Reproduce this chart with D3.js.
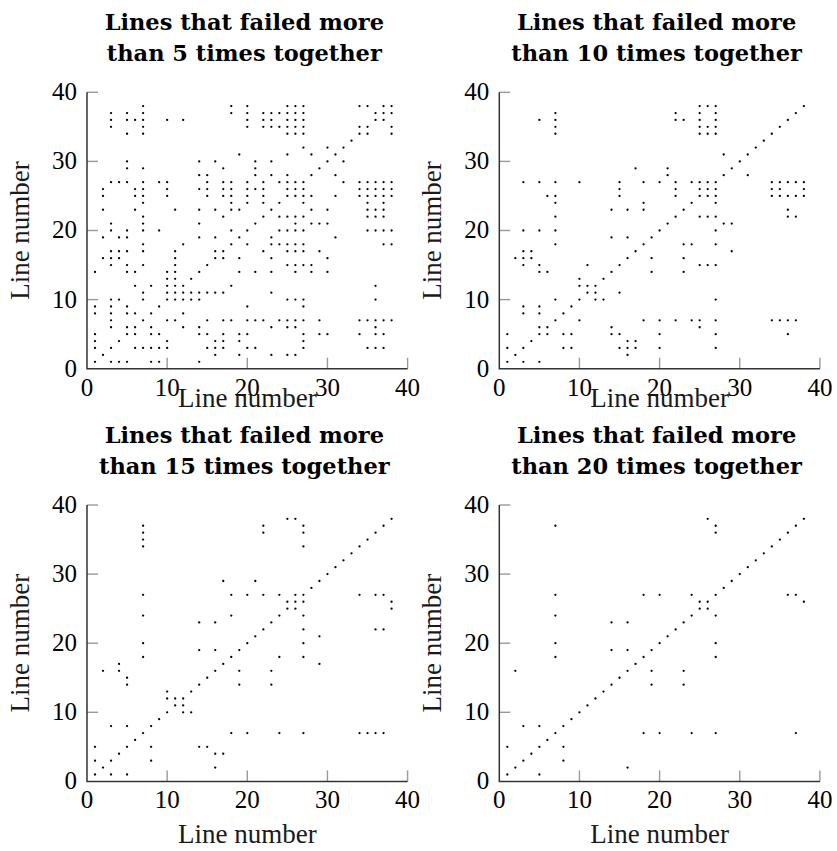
<!DOCTYPE html>
<html>
<head>
<meta charset="utf-8">
<script src="https://cdn.jsdelivr.net/npm/d3@7"></script>
<style>
body { margin: 0; background: #fff; }
svg { display: block; }
.tick-lbl { font-family: "Liberation Serif", serif; font-size: 25px; fill: #000; }
.ax-lbl { font-family: "Liberation Serif", serif; font-size: 27px; fill: #1a1a1a; }
.title { font-family: "DejaVu Serif", serif; font-weight: bold; font-size: 22.5px; fill: #000; }
</style>
</head>
<body>
<svg id="chart"></svg>
<script>
// co-failure matrices: each entry is [row line, [column lines]]
var over5 = [
  [38, [7,18,20,25,26,27,34,35,37,38]],
  [37, [3,5,7,18,20,22,23,24,25,26,27,36,37,38]],
  [36, [3,5,6,7,10,12,20,22,23,25,26,27,36,37]],
  [35, [3,7,20,22,23,24,25,26,27,34,35,38]],
  [34, [5,7,25,26,27,34,35,38]],
  [33, [33]],
  [32, [27,30,32]],
  [31, [19,25,28,31]],
  [30, [5,14,16,21,23,30,32]],
  [29, [5,7,17,21,29]],
  [28, [14,15,21,23,25,28,31]],
  [27, [3,4,5,7,9,10,15,17,18,20,22,24,25,26,27,32,34,35,36,37,38]],
  [26, [2,6,7,10,14,15,17,18,20,21,22,25,26,27,34,35,36,37,38]],
  [25, [2,6,7,10,15,17,18,20,22,25,26,27,28,31,34,35,36,37,38]],
  [24, [7,18,20,22,24,27,35,37]],
  [23, [2,6,11,14,16,18,19,23,28,30,35,36,37]],
  [22, [7,17,22,24,25,26,27,35,36,37]],
  [21, [3,7,14,21,26,28,29,30]],
  [20, [3,5,7,9,18,20,24,25,26,27,35,36,37,38]],
  [19, [2,4,5,14,16,19,23,31]],
  [18, [7,12,18,20,23,24,25,26,27,37,38]],
  [17, [3,4,5,7,11,16,17,22,25,26,27,29]],
  [16, [2,3,4,11,16,17,19,23,30]],
  [15, [3,5,7,11,15,25,26,27,28]],
  [14, [1,5,6,10,11,14,19,21,23,26,28,30]],
  [13, [10,11,13]],
  [12, [6,8,10,11,12,18,36]],
  [11, [7,10,11,12,13,14,15,16,17,23]],
  [10, [3,4,7,10,11,12,13,14,25,26,27,36]],
  [9, [1,3,5,9,20,27]],
  [8, [1,3,5,6,8,12]],
  [7, [3,7,10,11,15,17,18,20,21,22,24,25,26,27,29,34,35,36,37,38]],
  [6, [3,5,6,8,12,14,23,25,26,36]],
  [5, [1,5,6,8,9,14,15,17,19,20,27,29,30,34,36,37]],
  [4, [1,4,10,16,17,19,27]],
  [3, [1,3,6,7,8,9,10,15,16,17,20,21,27,35,36,37]],
  [2, [2,16,19,23,25,26]],
  [1, [1,3,4,5,8,9,14]]
];

var over10 = [
  [38, [25,26,27,38]],
  [37, [7,22,25,27,37]],
  [36, [5,7,22,23,25,27,36]],
  [35, [7,25,26,27,35]],
  [34, [7,25,26,27,34]],
  [33, [33]],
  [32, [32]],
  [31, [28,31]],
  [30, [30]],
  [29, [17,21,29]],
  [28, [21,28,31]],
  [27, [3,5,7,10,15,18,20,22,24,25,26,27,34,35,36,37,38]],
  [26, [15,22,25,26,27,34,35,38]],
  [25, [6,7,15,22,25,26,27,34,35,36,37,38]],
  [24, [7,18,24,27]],
  [23, [14,16,18,23,36]],
  [22, [7,22,25,26,27,36,37]],
  [21, [21,28,29]],
  [20, [3,5,7,20,27]],
  [19, [14,16,19]],
  [18, [7,18,23,24,27]],
  [17, [3,4,17,29]],
  [16, [2,3,4,16,19,23]],
  [15, [3,5,11,15,25,26,27]],
  [14, [5,6,14,19,23]],
  [13, [10,13]],
  [12, [10,11,12]],
  [11, [11,12,15]],
  [10, [7,10,12,13,27]],
  [9, [3,5,9]],
  [8, [3,5,8]],
  [7, [7,10,18,20,22,24,25,27,34,35,36,37]],
  [6, [5,6,14,25]],
  [5, [1,5,6,8,9,14,15,20,27,36]],
  [4, [4,16,17]],
  [3, [1,3,8,9,15,16,17,20,27]],
  [2, [2,16]],
  [1, [1,3,5]]
];

var over15 = [
  [38, [25,26,38]],
  [37, [7,22,27,37]],
  [36, [7,22,27,36]],
  [35, [7,35]],
  [34, [7,27,34]],
  [33, [33]],
  [32, [32]],
  [31, [31]],
  [30, [30]],
  [29, [17,21,29]],
  [28, [28]],
  [27, [7,18,20,22,24,26,27,34,36,37]],
  [26, [25,26,27,38]],
  [25, [25,26,38]],
  [24, [7,18,24,27]],
  [23, [14,16,23]],
  [22, [22,27,36,37]],
  [21, [21,29]],
  [20, [7,20,27]],
  [19, [14,16,19]],
  [18, [7,18,24,27]],
  [17, [4,17,29]],
  [16, [2,4,16,19,23]],
  [15, [5,15]],
  [14, [5,14,19,23]],
  [13, [10,13]],
  [12, [10,11,12]],
  [11, [11,12]],
  [10, [10,12,13]],
  [9, [9]],
  [8, [3,5,8]],
  [7, [7,18,20,24,27,34,35,36,37]],
  [6, [6]],
  [5, [1,5,8,14,15]],
  [4, [4,16,17]],
  [3, [1,3,8]],
  [2, [2,16]],
  [1, [1,3,5]]
];

var over20 = [
  [38, [26,38]],
  [37, [7,27,37]],
  [36, [27,36]],
  [35, [35]],
  [34, [34]],
  [33, [33]],
  [32, [32]],
  [31, [31]],
  [30, [30]],
  [29, [29]],
  [28, [28]],
  [27, [7,18,20,24,27,36,37]],
  [26, [25,26,38]],
  [25, [25,26]],
  [24, [7,24,27]],
  [23, [14,16,23]],
  [22, [22]],
  [21, [21]],
  [20, [7,20,27]],
  [19, [14,16,19]],
  [18, [7,18,27]],
  [17, [17]],
  [16, [2,16,19,23]],
  [15, [15]],
  [14, [14,19,23]],
  [13, [13]],
  [12, [12]],
  [11, [11]],
  [10, [10]],
  [9, [9]],
  [8, [3,5,8]],
  [7, [7,18,20,24,27,37]],
  [6, [6]],
  [5, [1,5,8]],
  [4, [4]],
  [3, [3,8]],
  [2, [2,16]],
  [1, [1,5]]
];

var thresholds = [5, 10, 15, 20];
var matrices = [over5, over10, over15, over20];
var ticks = [0, 10, 20, 30, 40];

var W = 837, H = 851;
var plotW = 320.6, plotH = 276.4;
// panel origins (top-left corner of each plot area)
var origins = [[87, 92.3], [499.3, 92.3], [87, 505], [499.3, 505]];

var svg = d3.select("#chart").attr("width", W).attr("height", H);

var x = d3.scaleLinear().domain([0, 40]).range([0, plotW]);
var y = d3.scaleLinear().domain([0, 40]).range([plotH, 0]);

matrices.forEach(function(m, k) {
  var g = svg.append("g")
    .attr("transform", "translate(" + origins[k][0] + "," + origins[k][1] + ")");

  var pts = [];
  m.forEach(function(r) {
    r[1].forEach(function(c) { pts.push([c, r[0]]); });
  });

  // tick marks (inward, grey)
  g.selectAll(".xt").data(ticks.slice(1)).enter().append("line")
    .attr("x1", function(d) { return x(d); }).attr("x2", function(d) { return x(d); })
    .attr("y1", plotH).attr("y2", plotH - 11)
    .style("stroke", "#9a9a9a").style("stroke-width", 1.4);
  g.selectAll(".yt").data(ticks.slice(1)).enter().append("line")
    .attr("x1", 0).attr("x2", 11)
    .attr("y1", function(d) { return y(d); }).attr("y2", function(d) { return y(d); })
    .style("stroke", "#9a9a9a").style("stroke-width", 1.4);

  // axis lines, left and bottom only
  g.append("path")
    .attr("d", "M0," + y(40) + "V" + plotH + "H" + x(40))
    .style("fill", "none").style("stroke", "#333").style("stroke-width", 1.5);

  // tick labels
  g.selectAll(".xl").data(ticks).enter().append("text")
    .attr("class", "tick-lbl")
    .attr("x", function(d) { return x(d); })
    .attr("y", plotH + 27)
    .attr("text-anchor", "middle")
    .text(function(d) { return d; });
  g.selectAll(".yl").data(ticks).enter().append("text")
    .attr("class", "tick-lbl")
    .attr("x", -10)
    .attr("y", function(d) { return y(d) + 8; })
    .attr("text-anchor", "end")
    .text(function(d) { return d; });

  // points
  g.selectAll("circle").data(pts).enter().append("circle")
    .attr("cx", function(d) { return x(d[0]); })
    .attr("cy", function(d) { return y(d[1]); })
    .attr("r", 1.15)
    .style("fill", "#000");

  // axis labels (top row label sits tight under the ticks, as in the original)
  g.append("text").attr("class", "ax-lbl")
    .attr("x", plotW / 2)
    .attr("y", k < 2 ? plotH + 38 : plotH + 62)
    .attr("text-anchor", "middle")
    .text("Line number");
  g.append("text").attr("class", "ax-lbl")
    .attr("transform", "translate(-58," + plotH / 2 + ") rotate(-90)")
    .attr("text-anchor", "middle")
    .text("Line number");

  // title on two lines
  var t = g.append("text").attr("class", "title").attr("text-anchor", "middle");
  t.append("tspan").attr("x", plotW / 2 - 3).attr("y", -62).text("Lines that failed more");
  t.append("tspan").attr("x", plotW / 2 - 3).attr("y", -31)
    .text("than " + thresholds[k] + " times together");
});
</script>
</body>
</html>
